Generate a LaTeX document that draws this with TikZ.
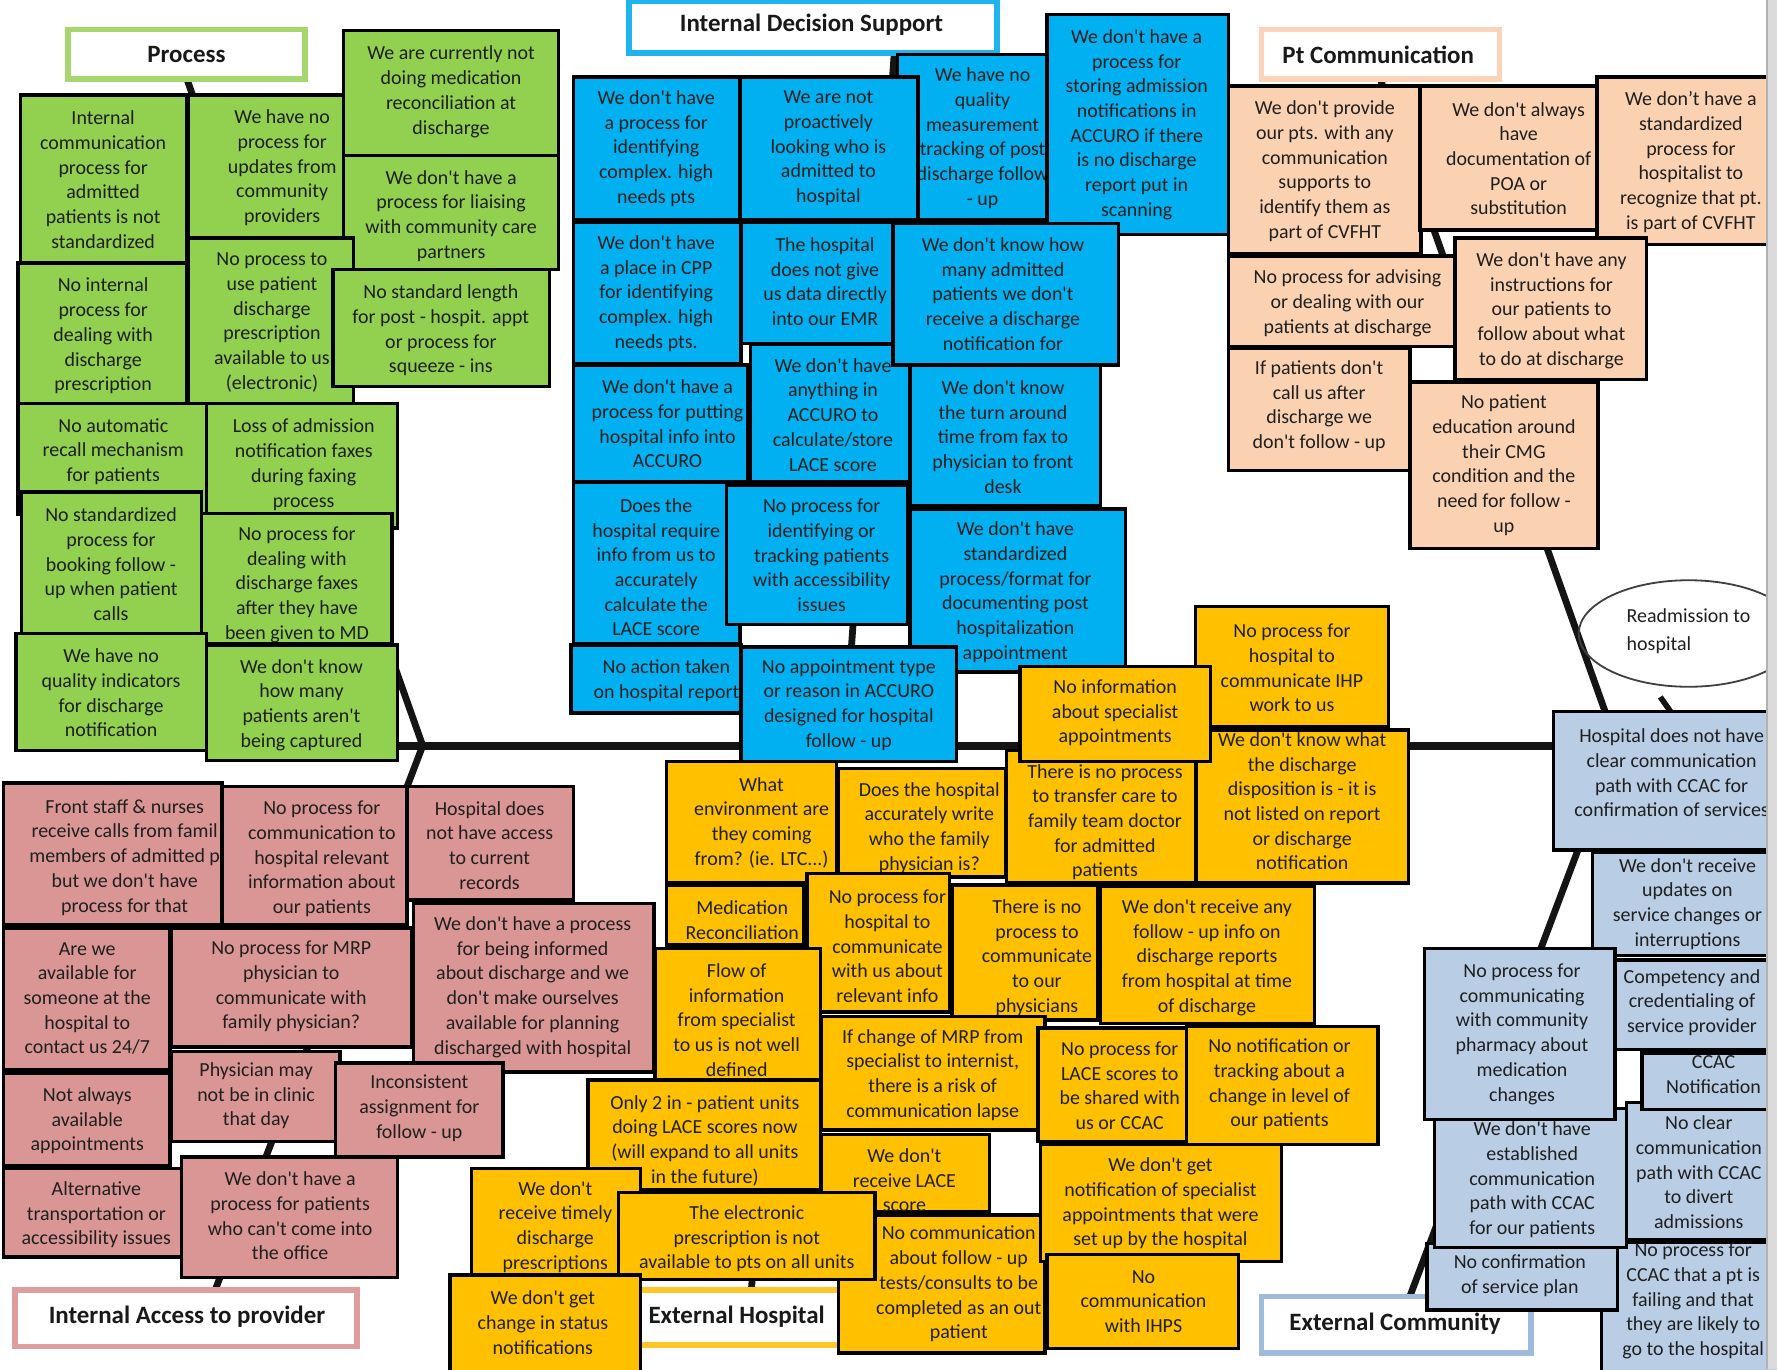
\documentclass[tikz,border=0pt]{standalone}
\usepackage{fontspec}
\setmainfont{Carlito}[Ligatures=TeXOff]
\usetikzlibrary{shapes.geometric}

% sticky-note fills
\definecolor{gfill}{RGB}{146,208,80}
\definecolor{bfill}{RGB}{0,176,240}
\definecolor{cfill}{RGB}{250,210,178}
\definecolor{pfill}{RGB}{217,150,148}
\definecolor{yfill}{RGB}{255,192,0}
\definecolor{sfill}{RGB}{185,205,229}
% category label borders
\definecolor{gline}{RGB}{165,215,110}
\definecolor{bline}{RGB}{30,180,240}
\definecolor{cline}{RGB}{250,212,184}
\definecolor{pline}{RGB}{222,158,158}
\definecolor{yline}{RGB}{255,198,40}
\definecolor{sline}{RGB}{160,186,220}

\tikzset{
  notebox/.style={rectangle, draw=black, line width=1.5pt, inner sep=0pt, outer sep=0pt},
  notetext/.style={align=center, inner sep=0pt, text=black!88, font=\fontsize{8.8}{10.9}\selectfont},
  catbox/.style={rectangle, line width=2.5pt, fill=white, inner sep=0pt, outer sep=0pt},
  cattext/.style={inner sep=0pt, text=black!90, font=\bfseries\fontsize{11}{13}\selectfont},
  bone/.style={line width=3pt, draw=black!92, line cap=butt},
}

% name, x1, y1, x2, y2, fill, text x, text y, text
\newcommand\stickynote[9]{%
  \node[notebox, fill=#6, minimum width={(#4-#2)*0.5pt}, minimum height={(#5-#3)*0.5pt}]
    (#1) at ({(#2+#4)/2},{(#3+#5)/2}) {};
  \node[notetext] (#1-t) at (#7,#8) {#9};
}
% name, x1, y1, x2, y2, border colour, text x, text y, title
\newcommand\catlabel[9]{%
  \node[catbox, draw=#6, minimum width={(#4-#2)*0.5pt}, minimum height={(#5-#3)*0.5pt}]
    (#1) at ({(#2+#4)/2},{(#3+#5)/2}) {};
  \node[cattext] (#1-t) at (#7,#8) {#9};
}

\begin{document}
\begin{tikzpicture}[x=0.5pt, y=-0.5pt]
\useasboundingbox (0,0) rectangle (1568,1208);
\fill[white] (0,0) rectangle (1568,1208);

% ---------- fishbone skeleton ----------
\coordinate (spL) at (330,658);
\coordinate (jP) at (373,658);
\coordinate (jR) at (1427,658);
\coordinate (procfoot) at (165,70);
\coordinate (accfoot) at (190,1138);
\coordinate (idsfoot) at (789,48);
\coordinate (idsj) at (745,658);
\coordinate (ptfoot) at (1218,70);
\coordinate (excfoot) at (1244,1144);
\coordinate (exhfoot) at (663,1138);
\coordinate (exhj) at (700,658);
\coordinate (rdtail) at (1465,615);
\coordinate (rdhead) at (1484,642);

\draw[bone, line width=3.5pt] (spL) -- (jR);
\draw[bone] (procfoot) -- (jP) -- (accfoot);
\draw[bone] (idsfoot) -- (idsj);
\draw[bone] (exhfoot) -- (exhj);
\draw[bone] (ptfoot) -- (jR) -- (excfoot);
\draw[bone, line width=2.5pt] (rdtail) -- (rdhead);

% ---------- category labels ----------
\catlabel{procl}{60}{26}{269}{70}{gline}{164.5}{48}{Process}
\catlabel{idsl}{555}{1}{880}{47}{bline}{716}{22}{Internal Decision Support}
\catlabel{ptl}{1113}{26}{1323}{70}{cline}{1216}{48.5}{Pt Communication}
\catlabel{accl}{13}{1138}{315}{1188}{pline}{165}{1162}{Internal Access to provider}
\catlabel{exhl}{545}{1138}{760}{1187}{yline}{650}{1162}{External Hospital}
\catlabel{excl}{1113}{1144}{1351}{1194}{sline}{1231}{1168}{External Community}

% effect
\node[ellipse, draw=black!75, line width=0.8pt, minimum width=97pt, minimum height=47pt, inner sep=0pt] (readm) at (1490,559) {};
\node[anchor=west, align=left, inner sep=0pt, text=black!88, font=\fontsize{8.8}{12.5}\selectfont] (readm-t) at (1435,557) {Readmission to\\hospital};

% ---------- Process ----------
\stickynote{g3}{303}{27}{493}{137}{gfill}{398}{81}{We are currently not\\doing medication\\reconciliation at\\discharge}
\stickynote{g4}{303}{137}{493}{238}{gfill}{398}{190.5}{We don't have a\\process for liaising\\with community care\\partners}
\stickynote{g1}{18}{84}{165}{232}{gfill}{91}{158.5}{Internal\\communication\\process for\\admitted\\patients is not\\standardized}
\stickynote{g2}{166}{84}{303}{210}{gfill}{249}{148}{We have no\\process for\\updates from\\community\\providers}
\stickynote{g5}{166}{210}{312}{356}{gfill}{240}{284.5}{No process to\\use patient\\discharge\\prescription\\available to us\\(electronic)}
\stickynote{g6}{294}{238}{485}{341}{gfill}{389}{291.5}{No standard length\\for post - hospit. appt\\or process for\\squeeze - ins}
\stickynote{g7}{16}{232}{165}{356}{gfill}{91}{296.5}{No internal\\process for\\dealing with\\discharge\\prescription}
\stickynote{g8}{16}{356}{182}{454}{gfill}{100}{398.5}{No automatic\\recall mechanism\\for patients}
\stickynote{g9}{182}{356}{351}{466}{gfill}{268}{410}{Loss of admission\\notification faxes\\during faxing\\process}
\stickynote{g10}{19}{434}{178}{559}{gfill}{98}{498}{No standardized\\process for\\booking follow -\\up when patient\\calls}
\stickynote{g11}{178}{453}{346}{568}{gfill}{262}{516}{No process for\\dealing with\\discharge faxes\\after they have\\been given to MD}
\stickynote{g12}{14}{559}{182}{662}{gfill}{98}{611.5}{We have no\\quality indicators\\for discharge\\notification}
\stickynote{g13}{182}{569}{351}{671}{gfill}{266}{622}{We don't know\\how many\\patients aren't\\being captured}

% ---------- Internal Decision Support ----------
\stickynote{b1}{506}{68}{653}{194}{bfill}{579}{131}{We don't have\\a process for\\identifying\\complex. high\\needs pts}
\stickynote{b3}{792}{48}{940}{194}{bfill}{867}{122}{We have no\\quality\\measurement\\tracking of post\\discharge follow\\- up}
\stickynote{b2}{653}{68}{810}{194}{bfill}{731}{131}{We are not\\proactively\\looking who is\\admitted to\\hospital}
\stickynote{b4}{924}{13}{1084}{207}{bfill}{1003}{110}{We don't have a\\process for\\storing admission\\notifications in\\ACCURO if there\\is no discharge\\report put in\\scanning}
\stickynote{b5}{506}{196}{654}{321}{bfill}{579}{259}{We don't have\\a place in CPP\\for identifying\\complex. high\\needs pts.}
\stickynote{b6}{654}{196}{788}{303}{bfill}{728}{248.5}{The hospital\\does not give\\us data directly\\into our EMR}
\stickynote{b8}{506}{322}{660}{425}{bfill}{589}{374}{We don't have a\\process for putting\\hospital info into\\ACCURO}
\stickynote{b9}{662}{304}{803}{425}{bfill}{735}{366}{We don't have\\anything in\\ACCURO to\\calculate/store\\LACE score}
\stickynote{b7}{788}{197}{987}{322}{bfill}{885}{259.5}{We don't know how\\many admitted\\patients we don't\\receive a discharge\\notification for}
\stickynote{b10}{803}{322}{971}{446}{bfill}{885}{385.5}{We don't know\\the turn around\\time from fax to\\physician to front\\desk}
\stickynote{b11}{506}{426}{653}{568}{bfill}{579}{500.5}{Does the\\hospital require\\info from us to\\accurately\\calculate the\\LACE score}
\stickynote{b12}{641}{428}{801}{551}{bfill}{725}{490}{No process for\\identifying or\\tracking patients\\with accessibility\\issues}
\stickynote{b14}{504}{569}{654}{629}{bfill}{588}{600.5}{No action taken\\on hospital report}
\stickynote{b13}{803}{449}{993}{593}{bfill}{896}{522.5}{We don't have\\standardized\\process/format for\\documenting post\\hospitalization\\appointment}
\stickynote{b15}{654}{571}{844}{672}{bfill}{749}{622}{No appointment type\\or reason in ACCURO\\designed for hospital\\follow - up}

% ---------- Pt Communication ----------
\stickynote{c1}{1084}{76}{1254}{224}{cfill}{1169}{151}{We don't provide\\our pts. with any\\communication\\supports to\\identify them as\\part of CVFHT}
\stickynote{c2}{1253}{76}{1409}{203}{cfill}{1340}{140}{We don't always\\have\\documentation of\\POA or\\substitution}
\stickynote{c3}{1409}{68}{1575}{216}{cfill}{1492}{143}{We don’t have a\\standardized\\process for\\hospitalist to\\recognize that pt.\\is part of CVFHT}
\stickynote{c4}{1084}{226}{1284}{306}{cfill}{1189}{267.5}{No process for advising\\or dealing with our\\patients at discharge}
\stickynote{c5}{1284}{210}{1453}{335}{cfill}{1369}{274}{We don't have any\\instructions for\\our patients to\\follow about what\\to do at discharge}
\stickynote{c6}{1084}{307}{1244}{415}{cfill}{1164}{358.5}{If patients don't\\call us after\\discharge we\\don't follow - up}
\stickynote{c7}{1244}{337}{1410}{484}{cfill}{1327}{410.5}{No patient\\education around\\their CMG\\condition and the\\need for follow -\\up}

% ---------- Internal Access to provider ----------
\stickynote{p1}{3}{691}{196}{816}{pfill}{110}{756.5}{Front staff \& nurses\\receive calls from famil\\members of admitted p\\but we don't have\\process for that}
\stickynote{p2}{196}{694}{359}{816}{pfill}{284}{758}{No process for\\communication to\\hospital relevant\\information about\\our patients}
\stickynote{p3}{359}{694}{506}{794}{pfill}{432}{746}{Hospital does\\not have access\\to current\\records}
\stickynote{p4}{365}{797}{577}{946}{pfill}{470}{871}{We don't have a process\\for being informed\\about discharge and we\\don't make ourselves\\available for planning\\discharged with hospital}
\stickynote{p5}{3}{819}{150}{944}{pfill}{77}{881}{Are we\\available for\\someone at the\\hospital to\\contact us 24/7}
\stickynote{p6}{151}{819}{363}{924}{pfill}{257}{870.5}{No process for MRP\\physician to\\communicate with\\family physician?}
\stickynote{p7}{3}{947}{150}{1029}{pfill}{77}{989}{Not always\\available\\appointments}
\stickynote{p8}{151}{928}{300}{1007}{pfill}{226}{967}{Physician may\\not be in clinic\\that day}
\stickynote{p9}{296}{938}{444}{1021}{pfill}{370}{978}{Inconsistent\\assignment for\\follow - up}
\stickynote{p10}{3}{1031}{160}{1109}{pfill}{85}{1072}{Alternative\\transportation or\\accessibility issues}
\stickynote{p11}{160}{1021}{351}{1127}{pfill}{256}{1073}{We don't have a\\process for patients\\who can't come into\\the office}

% ---------- External Hospital ----------
\stickynote{y1}{1055}{535}{1225}{641}{yfill}{1140}{589.5}{No process for\\hospital to\\communicate IHP\\work to us}
\stickynote{y3}{1056}{644}{1243}{779}{yfill}{1149}{707}{We don't know what\\the discharge\\disposition is - it is\\not listed on report\\or discharge\\notification}
\stickynote{y4}{888}{662}{1055}{779}{yfill}{975}{725.5}{There is no process\\to transfer care to\\family team doctor\\for admitted\\patients}
\stickynote{y2}{900}{588}{1068}{672}{yfill}{984}{629}{No information\\about specialist\\appointments}
\stickynote{y5}{588}{672}{738}{779}{yfill}{672}{726}{What\\environment are\\they coming\\from? (ie. LTC...)}
\stickynote{y6}{740}{678}{887}{774}{yfill}{820}{730.5}{Does the hospital\\accurately write\\who the family\\physician is?}
\stickynote{y7}{588}{781}{709}{834}{yfill}{655}{812}{Medication\\Reconciliation}
\stickynote{y8}{712}{771}{838}{893}{yfill}{783}{835}{No process for\\hospital to\\communicate\\with us about\\relevant info}
\stickynote{y9}{840}{781}{969}{900}{yfill}{915}{845}{There is no\\process to\\communicate\\to our\\physicians}
\stickynote{y10}{971}{782}{1160}{903}{yfill}{1065}{845}{We don't receive any\\follow - up info on\\discharge reports\\from hospital at time\\of discharge}
\stickynote{y11}{578}{837}{724}{953}{yfill}{650}{900}{Flow of\\information\\from specialist\\to us is not well\\defined}
\stickynote{y12}{725}{897}{922}{997}{yfill}{823}{948.5}{If change of MRP from\\specialist to internist,\\there is a risk of\\communication lapse}
\stickynote{y13}{916}{907}{1047}{1007}{yfill}{988}{958}{No process for\\LACE scores to\\be shared with\\us or CCAC}
\stickynote{y14}{1047}{906}{1216}{1010}{yfill}{1129}{957}{No notification or\\tracking about a\\change in level of\\our patients}
\stickynote{y15}{519}{953}{724}{1050}{yfill}{622}{1006.5}{Only 2 in - patient units\\doing LACE scores now\\(will expand to all units\\in the future)}
\stickynote{y16}{725}{1001}{873}{1069}{yfill}{798}{1041.5}{We don't\\receive LACE\\score}
\stickynote{y20}{740}{1072}{922}{1194}{yfill}{846}{1133}{No communication\\about follow - up\\tests/consults to be\\completed as an out\\patient}
\stickynote{y17}{918}{1010}{1131}{1113}{yfill}{1024}{1062}{We don't get\\notification of specialist\\appointments that were\\set up by the hospital}
\stickynote{y21}{924}{1107}{1093}{1190}{yfill}{1009}{1148.5}{No\\communication\\with IHPS}
\stickynote{y18}{416}{1031}{565}{1125}{yfill}{490}{1082.5}{We don't\\receive timely\\discharge\\prescriptions}
\stickynote{y19}{546}{1052}{772}{1129}{yfill}{659}{1093}{The electronic\\prescription is not\\available to pts on all units}
\stickynote{y22}{397}{1125}{565}{1215}{yfill}{479}{1167}{We don't get\\change in status\\notifications}

% ---------- External Community ----------
\stickynote{s1}{1371}{628}{1575}{750}{sfill}{1475}{682}{Hospital does not have\\clear communication\\path with CCAC for\\confirmation of services}
\stickynote{s2}{1405}{752}{1575}{843}{sfill}{1489}{797.5}{We don't receive\\updates on\\service changes or\\interruptions}
\stickynote{s4}{1425}{847}{1575}{926}{sfill}{1493}{884.5}{Competency and\\credentialing of\\service provider}
\stickynote{s6}{1435}{973}{1575}{1094}{sfill}{1499}{1034.5}{No clear\\communication\\path with CCAC\\to divert\\admissions}
\stickynote{s5}{1449}{929}{1575}{979}{sfill}{1512}{948.5}{CCAC\\Notification}
\stickynote{s9}{1413}{1096}{1575}{1215}{sfill}{1494}{1148}{No process for\\CCAC that a pt is\\failing and that\\they are likely to\\go to the hospital}
\stickynote{s8}{1259}{1097}{1427}{1156}{sfill}{1341}{1125.5}{No confirmation\\of service plan}
\stickynote{s7}{1266}{978}{1435}{1101}{sfill}{1352}{1041}{We don't have\\established\\communication\\path with CCAC\\for our patients}
\stickynote{s3}{1257}{837}{1425}{988}{sfill}{1343}{912.5}{No process for\\communicating\\with community\\pharmacy about\\medication\\changes}

% page edge strip
\fill[gray!28] (1559,0) rectangle (1568,1208);
\draw[gray!60, line width=0.8pt] (1559,0) -- (1559,1208);
\end{tikzpicture}
\end{document}
